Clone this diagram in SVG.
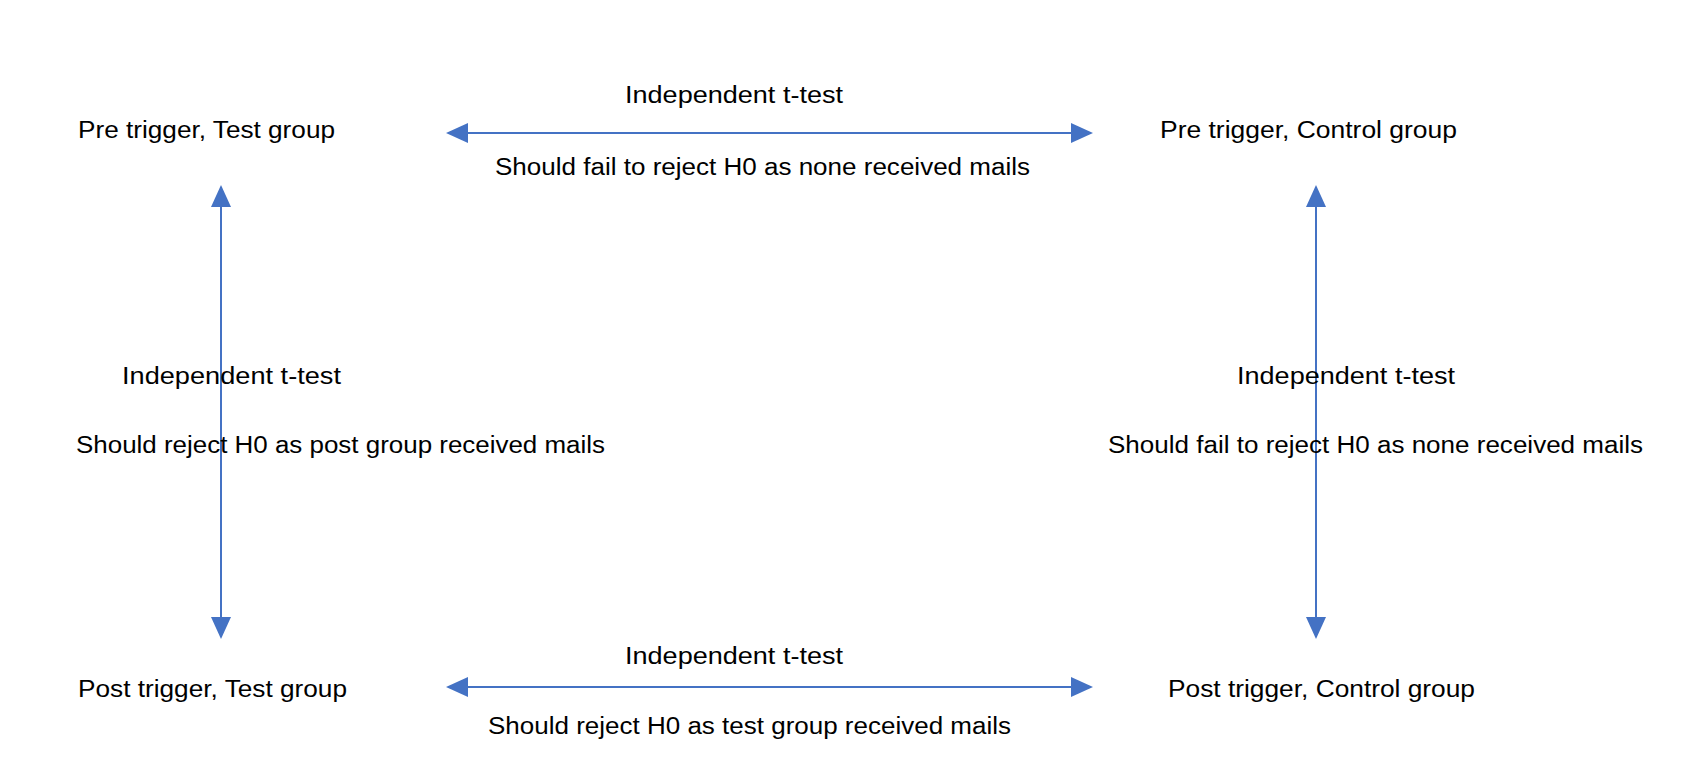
<svg xmlns="http://www.w3.org/2000/svg" width="1694" height="784" viewBox="0 0 1694 784">
<style>
text{font-family:"Liberation Sans",Arial,sans-serif;font-size:23px;fill:#000;text-anchor:middle}
.c{stroke:#4472C4;stroke-width:2;fill:none}
</style>
<defs>
<marker id="ah" markerUnits="userSpaceOnUse" markerWidth="24" markerHeight="22" refX="20" refY="10" orient="auto-start-reverse" viewBox="0 0 24 22">
<path d="M0,0 L22,10 L0,20 z" fill="#4472C4"/>
</marker>
</defs>
<rect width="1694" height="784" fill="#fff"/>
<g id="connectors">
<line class="c" x1="448" y1="133" x2="1091" y2="133" marker-start="url(#ah)" marker-end="url(#ah)"/>
<line class="c" x1="448" y1="687" x2="1091" y2="687" marker-start="url(#ah)" marker-end="url(#ah)"/>
<line class="c" x1="221" y1="187" x2="221" y2="637" marker-start="url(#ah)" marker-end="url(#ah)"/>
<line class="c" x1="1316" y1="187" x2="1316" y2="637" marker-start="url(#ah)" marker-end="url(#ah)"/>
</g>
<g id="pre-test"><text x="206.5" y="138" textLength="257" lengthAdjust="spacingAndGlyphs">Pre trigger, Test group</text></g>
<g id="pre-control"><text x="1308.5" y="138" textLength="297" lengthAdjust="spacingAndGlyphs">Pre trigger, Control group</text></g>
<g id="post-test"><text x="212.5" y="697" textLength="269" lengthAdjust="spacingAndGlyphs">Post trigger, Test group</text></g>
<g id="post-control"><text x="1321.5" y="697" textLength="307" lengthAdjust="spacingAndGlyphs">Post trigger, Control group</text></g>
<g id="labels">
<text x="734" y="103" textLength="218" lengthAdjust="spacingAndGlyphs">Independent t-test</text>
<text x="762.5" y="175" textLength="535" lengthAdjust="spacingAndGlyphs">Should fail to reject H0 as none received mails</text>
<text x="231.5" y="384" textLength="219" lengthAdjust="spacingAndGlyphs">Independent t-test</text>
<text x="340.5" y="453" textLength="529" lengthAdjust="spacingAndGlyphs">Should reject H0 as post group received mails</text>
<text x="1346" y="384" textLength="218" lengthAdjust="spacingAndGlyphs">Independent t-test</text>
<text x="1375.5" y="453" textLength="535" lengthAdjust="spacingAndGlyphs">Should fail to reject H0 as none received mails</text>
<text x="734" y="664" textLength="218" lengthAdjust="spacingAndGlyphs">Independent t-test</text>
<text x="749.5" y="734" textLength="523" lengthAdjust="spacingAndGlyphs">Should reject H0 as test group received mails</text>
</g>
</svg>
